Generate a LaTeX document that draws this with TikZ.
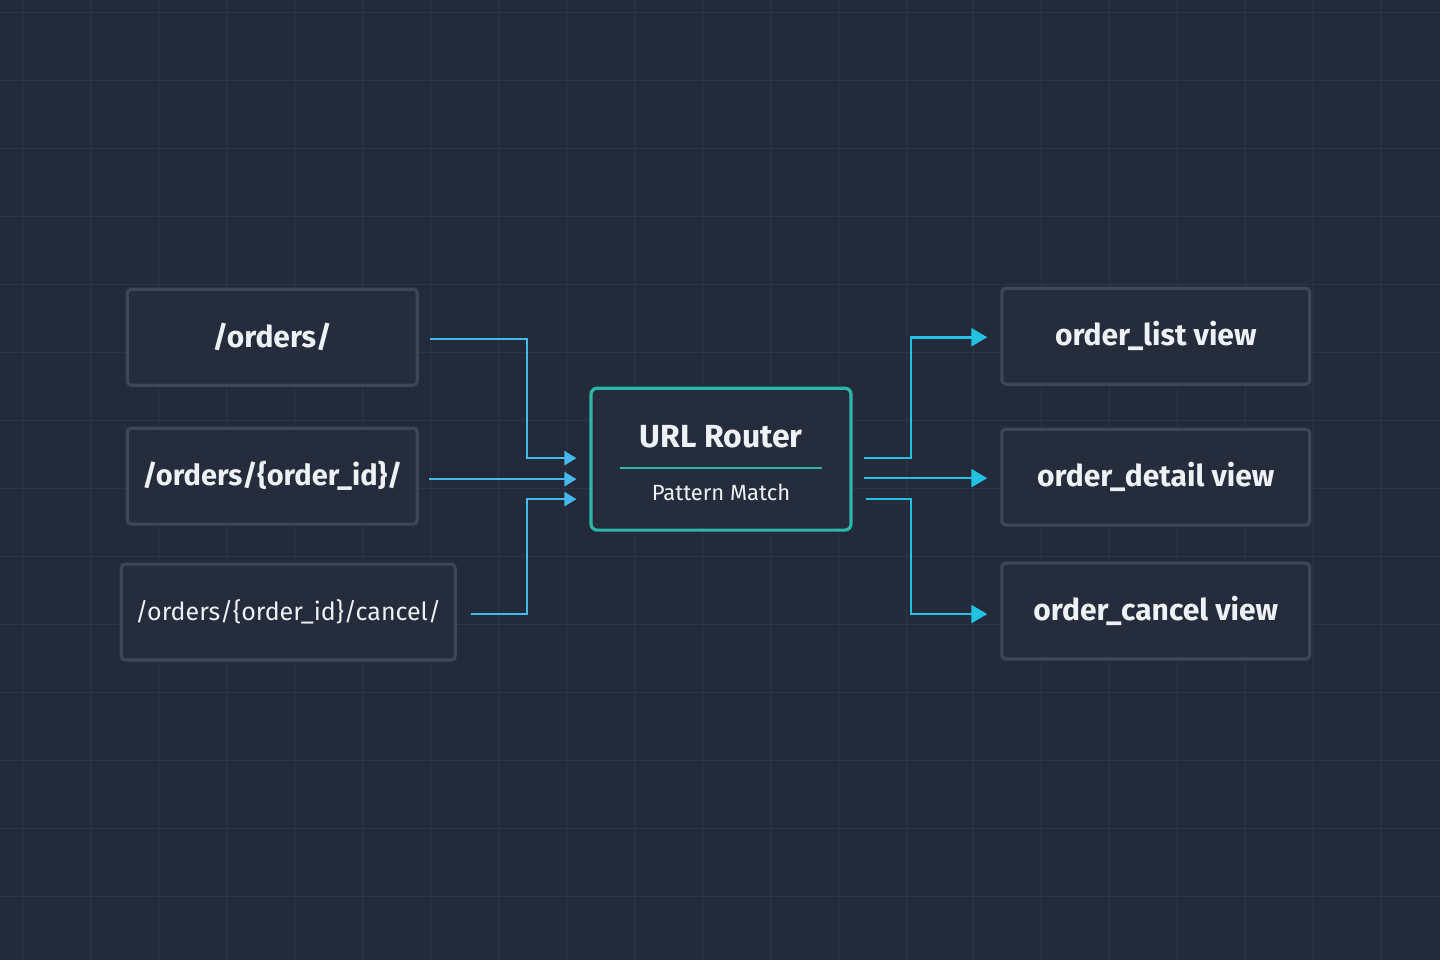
\documentclass[tikz,border=0pt]{standalone}
\usepackage{fontspec}
\setmainfont{Fira Sans}
\usetikzlibrary{arrows.meta, positioning, calc}
\definecolor{bgc}{HTML}{232A3A}
\definecolor{gridc}{HTML}{2C3446}
\definecolor{boxc}{HTML}{252C3C}
\definecolor{edgec}{HTML}{3E4658}
\definecolor{tealc}{HTML}{2DB5A6}
\definecolor{inc}{HTML}{45B8EC}
\definecolor{outc}{HTML}{22C2E2}
\definecolor{txtc}{HTML}{EEF1F5}
\tikzset{
  pathbox/.style={draw=edgec, line width=1.6pt, fill=boxc, rounded corners=2pt,
    text=txtc, minimum height=48pt, inner xsep=2pt},
  inlink/.style={draw=inc, line width=1.1pt, -{Triangle[length=6pt,width=7pt]}},
  outlink/.style={draw=outc, line width=1.3pt, -{Triangle[length=8pt,width=9pt]}}
}
\begin{document}
\begin{tikzpicture}[x=0.5pt, y=-0.5pt]
  % background and grid
  \fill[bgc] (0,0) rectangle (1440,960);
  \foreach \g in {22,90,...,1440} \draw[gridc, line width=0.4pt] (\g,0) -- (\g,960);
  \foreach \g in {12,80,...,960} \draw[gridc, line width=0.4pt] (0,\g) -- (1440,\g);
  % url patterns
  \node[pathbox, minimum width=145pt, font=\fontsize{15}{18}\selectfont\bfseries] (ord) at (272,337) {/orders/};
  \node[pathbox, minimum width=145pt, font=\fontsize{14.5}{18}\selectfont\bfseries] (det) at (272,476) {/orders/\{order\_id\}/};
  \node[pathbox, minimum width=167pt, font=\fontsize{12.5}{15}\selectfont] (can) at (288,612) {/orders/\{order\_id\}/cancel/};
  % router
  \node[draw=tealc, line width=1.6pt, fill=boxc, rounded corners=3pt,
    minimum width=130pt, minimum height=71pt] (rt) at (721,459) {};
  \node[text=txtc, font=\fontsize{16}{19}\selectfont\bfseries] (rtt) at (721,437) {URL Router};
  \node[text=txtc!85, font=\fontsize{11}{13}\selectfont] (rtp) at (721,492) {Pattern Match};
  \draw[tealc, line width=0.7pt] (620,468) -- (822,468);
  % views
  \node[pathbox, minimum width=154pt, font=\fontsize{15}{18}\selectfont\bfseries] (vl) at (1156,336) {order\_list view};
  \node[pathbox, minimum width=154pt, font=\fontsize{15}{18}\selectfont\bfseries] (vd) at (1156,477) {order\_detail view};
  \node[pathbox, minimum width=154pt, font=\fontsize{15}{18}\selectfont\bfseries] (vc) at (1156,611) {order\_cancel view};
  % incoming links
  \draw[inlink] ([xshift=5.5pt]ord.east |- 0,339) -| (527,400) |- ($(rt.west)+(-13,-1)$);
  \draw[inlink] ([xshift=5pt]det.east |- 0,479) -- ($(rt.west)+(-13,20)$);
  \draw[inlink] ([xshift=7pt]can.east |- 0,614) -| (527,550) |- ($(rt.west)+(-13,40)$);
  % outgoing links
  \draw[outlink] ($(rt.east)+(11,-1)$) -| (911,400) |- ([xshift=-6.5pt]vl.west |- 0,337);
  \draw[outlink] ($(rt.east)+(11,19)$) -- ([xshift=-6.5pt]vd.west |- 0,478);
  \draw[outlink] ($(rt.east)+(13,40)$) -| (911,550) |- ([xshift=-6.5pt]vc.west |- 0,614);
\end{tikzpicture}
\end{document}
